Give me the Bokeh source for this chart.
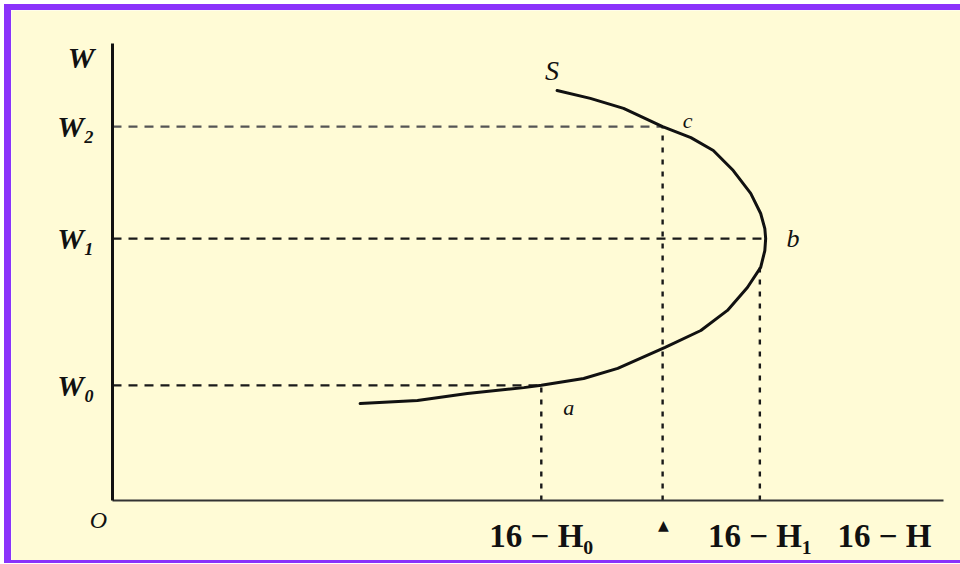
from bokeh.plotting import figure
from bokeh.models import Range1d, FixedTicker, Label, LinearAxis
from bokeh.embed import file_html
from bokeh.resources import INLINE

# ---- data (x: 16-H leisure units, y: wage units) ----
curve_x = [29.8, 36.7, 42.7, 49.5, 51.6, 56.7, 60.8, 66.5, 70.8, 74.0, 76.4, 78.0,
           78.5, 78.6, 78.5, 78.0, 76.8, 74.7, 72.3, 69.6, 66.2, 61.5, 57.5, 53.5]
curve_y = [21.2, 21.9, 23.4, 24.7, 25.2, 26.7, 28.9, 33.5, 37.2, 41.6, 46.6, 51.0,
           54.7, 57.3, 59.5, 62.8, 67.2, 72.2, 76.6, 79.4, 81.8, 85.8, 88.0, 89.7]

w_ticks = [25.2, 57.3, 81.8, 96.9]
w_labels = ["W₀", "W₁", "W₂", "W"]
w_levels = [25.2, 57.3, 81.8]
w_end_x = [51.6, 78.6, 66.2]          # where each dashed wage line meets the curve
w_colors = ["#1a1a1a", "#1a1a1a", "#555555"]

h_ticks = [51.6, 77.9, 92.9]
h_labels = ["16 − H₀", "16 − H₁", "16 − H"]

v_x = [51.6, 66.2, 77.9]
v_top = [25.2, 81.8, 51.5]

point_names = ["a", "b", "c", "S"]
point_lx = [54.9, 81.9, 69.2, 52.9]
point_ly = [20.4, 57.3, 83.2, 94.1]
point_sizes = ["22px", "26px", "22px", "28px"]

origin_name = "O"
origin_x, origin_y = -1.7, -4.2
mark_x, mark_y = 66.3, -5.3

BG = "#fffbd6"
PURPLE = "#8a32fb"
FONT = "Liberation Serif"
INK = "#111111"

p = figure(width=949, height=550, output_backend="svg", toolbar_location=None,
           x_range=Range1d(-12.154, 102.888), y_range=Range1d(-15.098, 107.221),
           x_axis_location=None, y_axis_location=None,
           min_border=0, min_border_left=0, min_border_right=0,
           min_border_top=0, min_border_bottom=0)
p.styles = {"margin-left": "4px", "margin-top": "4px",
            "border-left": f"7px solid {PURPLE}", "border-top": f"6px solid {PURPLE}",
            "border-bottom": f"3px solid {PURPLE}", "box-sizing": "content-box"}
p.background_fill_color = BG
p.border_fill_color = BG
p.outline_line_color = None
p.xgrid.grid_line_color = None
p.ygrid.grid_line_color = None

# dashed wage lines
p.segment(x0=[0, 0, 0], y0=w_levels, x1=w_end_x, y1=w_levels,
          line_color=w_colors, line_width=2.2, line_dash="9 7")
# dotted leisure lines
p.segment(x0=v_x, y0=[0, 0, 0], x1=v_x, y1=v_top,
          line_color="#1a1a1a", line_width=2.4, line_dash="5 7")
# labor supply curve
p.line(curve_x, curve_y, line_color=INK, line_width=3, line_join="round", line_cap="round")

# axes, pinned at the origin
yaxis = LinearAxis(fixed_location=0, bounds=(0, 100), ticker=FixedTicker(ticks=w_ticks),
                   major_label_overrides=dict(zip(w_ticks, w_labels)))
xaxis = LinearAxis(fixed_location=0, bounds=(0, 100), ticker=FixedTicker(ticks=h_ticks),
                   major_label_overrides=dict(zip(h_ticks, h_labels)))
for ax in (xaxis, yaxis):
    ax.major_tick_in = 0
    ax.major_tick_out = 0
    ax.minor_tick_in = 0
    ax.minor_tick_out = 0
    ax.major_label_text_font = FONT
    ax.major_label_text_color = INK
yaxis.axis_line_color = INK
yaxis.axis_line_width = 3
yaxis.major_label_text_font_size = "30px"
yaxis.major_label_text_font_style = "bold italic"
yaxis.major_label_standoff = 18
xaxis.axis_line_color = "#333333"
xaxis.axis_line_width = 2
xaxis.major_label_text_font_size = "33px"
xaxis.major_label_text_font_style = "bold"
xaxis.major_label_standoff = 17
p.add_layout(yaxis, "left")
p.add_layout(xaxis, "below")

# point labels
for name, lx, ly, fs in zip(point_names, point_lx, point_ly, point_sizes):
    p.add_layout(Label(x=lx, y=ly, text=name, text_font=FONT, text_font_style="italic",
                       text_font_size=fs, text_align="center", text_baseline="middle",
                       text_color=INK))

p.add_layout(Label(x=origin_x, y=origin_y, text=origin_name, text_font=FONT,
                   text_font_style="italic", text_font_size="24px", text_align="center",
                   text_baseline="middle", text_color=INK))
p.add_layout(Label(x=mark_x, y=mark_y, text="▲", text_font="DejaVu Sans",
                   text_font_size="14px", text_align="center", text_baseline="middle",
                   text_color=INK))

open("out.html", "w").write(file_html(p, INLINE))
